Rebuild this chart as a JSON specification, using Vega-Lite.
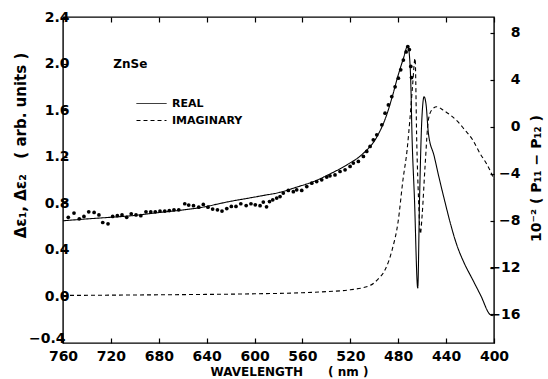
{
  "$schema": "https://vega.github.io/schema/vega-lite/v6.json",
  "width": 431,
  "height": 326,
  "autosize": {"type": "none"},
  "padding": {"left": 63, "top": 17, "right": 54, "bottom": 36},
  "background": "white",
  "config": {
    "view": {"stroke": "black", "strokeWidth": 1.4},
    "font": "DejaVu Sans",
    "axis": {"domain": false, "tickColor": "black", "labelColor": "black", "titleColor": "black", "grid": false,
      "labelFont": "DejaVu Sans", "labelFontWeight": "bold", "titleFont": "DejaVu Sans", "titleFontWeight": "bold", "tickWidth": 1.2}
  },
  "datasets": {
    "dots": [
      {"nm": 755.6, "v": 0.68}, {"nm": 750.8, "v": 0.716}, {"nm": 746.4, "v": 0.667}, {"nm": 742.5, "v": 0.687},
      {"nm": 738.5, "v": 0.727}, {"nm": 734, "v": 0.721}, {"nm": 730, "v": 0.70}, {"nm": 726.8, "v": 0.635},
      {"nm": 722.4, "v": 0.624}, {"nm": 718.5, "v": 0.687}, {"nm": 714.6, "v": 0.693}, {"nm": 710.7, "v": 0.70},
      {"nm": 706.8, "v": 0.68}, {"nm": 703, "v": 0.71}, {"nm": 699, "v": 0.70}, {"nm": 695, "v": 0.693},
      {"nm": 690.7, "v": 0.727}, {"nm": 686.7, "v": 0.727}, {"nm": 682.9, "v": 0.727}, {"nm": 679, "v": 0.733},
      {"nm": 675, "v": 0.733}, {"nm": 671.2, "v": 0.738}, {"nm": 667.3, "v": 0.744}, {"nm": 663.3, "v": 0.744},
      {"nm": 658.3, "v": 0.796}, {"nm": 655, "v": 0.785}, {"nm": 651, "v": 0.779}, {"nm": 646.6, "v": 0.767},
      {"nm": 642.8, "v": 0.79}, {"nm": 638.9, "v": 0.767}, {"nm": 635, "v": 0.75}, {"nm": 631, "v": 0.744},
      {"nm": 627.2, "v": 0.733}, {"nm": 623.2, "v": 0.755}, {"nm": 619.4, "v": 0.773}, {"nm": 615.5, "v": 0.773},
      {"nm": 611.5, "v": 0.796}, {"nm": 607, "v": 0.78}, {"nm": 603, "v": 0.796}, {"nm": 599.4, "v": 0.787},
      {"nm": 595.4, "v": 0.779}, {"nm": 592.7, "v": 0.81}, {"nm": 590, "v": 0.77}, {"nm": 587.5, "v": 0.815},
      {"nm": 584.8, "v": 0.83}, {"nm": 581.5, "v": 0.845}, {"nm": 578.7, "v": 0.858}, {"nm": 576, "v": 0.888},
      {"nm": 571.8, "v": 0.91}, {"nm": 567.6, "v": 0.90}, {"nm": 564.8, "v": 0.916}, {"nm": 560.6, "v": 0.91},
      {"nm": 556.4, "v": 0.944}, {"nm": 552.2, "v": 0.973}, {"nm": 548.1, "v": 0.987}, {"nm": 543.9, "v": 1.002},
      {"nm": 539.7, "v": 1.025}, {"nm": 537, "v": 1.036}, {"nm": 532.8, "v": 1.044}, {"nm": 528.6, "v": 1.073},
      {"nm": 524.4, "v": 1.088}, {"nm": 520.2, "v": 1.116}, {"nm": 517.5, "v": 1.145}, {"nm": 513.3, "v": 1.159},
      {"nm": 509.1, "v": 1.202}, {"nm": 506.3, "v": 1.245}, {"nm": 503.5, "v": 1.288}, {"nm": 500.8, "v": 1.345},
      {"nm": 497.9, "v": 1.388}, {"nm": 493.7, "v": 1.474}, {"nm": 491, "v": 1.574}, {"nm": 488.2, "v": 1.645},
      {"nm": 485.4, "v": 1.717}, {"nm": 482.6, "v": 1.80}, {"nm": 479.9, "v": 1.875}, {"nm": 477.9, "v": 1.946},
      {"nm": 475.7, "v": 2.03}, {"nm": 473.4, "v": 2.10}, {"nm": 472, "v": 2.146}, {"nm": 470.7, "v": 2.12},
      {"nm": 469.5, "v": 1.975}, {"nm": 468.9, "v": 1.88}
    ],
    "lines": [
      {"nm": 760, "r": -8.02, "series": "REAL"}, {"nm": 740, "r": -7.86, "series": "REAL"},
      {"nm": 720, "r": -7.72, "series": "REAL"}, {"nm": 704, "r": -7.6, "series": "REAL"},
      {"nm": 680, "r": -7.32, "series": "REAL"}, {"nm": 660, "r": -7.1, "series": "REAL"},
      {"nm": 648, "r": -6.94, "series": "REAL"}, {"nm": 620, "r": -6.36, "series": "REAL"},
      {"nm": 600, "r": -6.0, "series": "REAL"}, {"nm": 593, "r": -5.87, "series": "REAL"},
      {"nm": 579, "r": -5.6, "series": "REAL"}, {"nm": 565, "r": -5.16, "series": "REAL"},
      {"nm": 550, "r": -4.65, "series": "REAL"}, {"nm": 537, "r": -4.03, "series": "REAL"},
      {"nm": 523, "r": -3.26, "series": "REAL"}, {"nm": 509, "r": -2.26, "series": "REAL"},
      {"nm": 498, "r": -0.9, "series": "REAL"}, {"nm": 490, "r": 0.9, "series": "REAL"},
      {"nm": 485.4, "r": 2.4, "series": "REAL"}, {"nm": 480, "r": 4.4, "series": "REAL"},
      {"nm": 475.7, "r": 5.8, "series": "REAL"}, {"nm": 472, "r": 6.9, "series": "REAL"},
      {"nm": 470.1, "r": 5.25, "series": "REAL"}, {"nm": 469.3, "r": 2.98, "series": "REAL"},
      {"nm": 468.7, "r": 0.14, "series": "REAL"}, {"nm": 466.4, "r": -6.24, "series": "REAL"},
      {"nm": 463.7, "r": -13.75, "series": "REAL"}, {"nm": 462.2, "r": -6.24, "series": "REAL"},
      {"nm": 460.3, "r": 0.57, "series": "REAL"}, {"nm": 458.4, "r": 2.55, "series": "REAL"},
      {"nm": 456.7, "r": 1.85, "series": "REAL"}, {"nm": 454.8, "r": -0.56, "series": "REAL"},
      {"nm": 450, "r": -2.5, "series": "REAL"}, {"nm": 446, "r": -4.3, "series": "REAL"},
      {"nm": 441, "r": -6.4, "series": "REAL"}, {"nm": 436, "r": -8.4, "series": "REAL"},
      {"nm": 431, "r": -10.1, "series": "REAL"}, {"nm": 425, "r": -11.6, "series": "REAL"},
      {"nm": 418, "r": -13.0, "series": "REAL"}, {"nm": 411, "r": -14.4, "series": "REAL"},
      {"nm": 403.3, "r": -16.0, "series": "REAL"}, {"nm": 401, "r": -16.1, "series": "REAL"},
      {"nm": 760, "r": -14.38, "series": "IMAGINARY"}, {"nm": 700, "r": -14.34, "series": "IMAGINARY"},
      {"nm": 650, "r": -14.3, "series": "IMAGINARY"}, {"nm": 600, "r": -14.24, "series": "IMAGINARY"},
      {"nm": 560, "r": -14.15, "series": "IMAGINARY"}, {"nm": 540, "r": -14.05, "series": "IMAGINARY"},
      {"nm": 520, "r": -13.9, "series": "IMAGINARY"}, {"nm": 503, "r": -13.5, "series": "IMAGINARY"},
      {"nm": 497, "r": -13.0, "series": "IMAGINARY"}, {"nm": 491, "r": -12.2, "series": "IMAGINARY"},
      {"nm": 485.1, "r": -10.5, "series": "IMAGINARY"}, {"nm": 480.1, "r": -8.1, "series": "IMAGINARY"},
      {"nm": 476, "r": -4.5, "series": "IMAGINARY"}, {"nm": 472.6, "r": -2.0, "series": "IMAGINARY"},
      {"nm": 470.1, "r": 0.8, "series": "IMAGINARY"}, {"nm": 468, "r": 3.5, "series": "IMAGINARY"},
      {"nm": 465.9, "r": 5.82, "series": "IMAGINARY"}, {"nm": 464.5, "r": -1.41, "series": "IMAGINARY"},
      {"nm": 463, "r": -6.24, "series": "IMAGINARY"}, {"nm": 461.5, "r": -9.13, "series": "IMAGINARY"},
      {"nm": 460, "r": -7.5, "series": "IMAGINARY"}, {"nm": 457.6, "r": -3.4, "series": "IMAGINARY"},
      {"nm": 454.8, "r": 0.57, "series": "IMAGINARY"}, {"nm": 452, "r": 1.42, "series": "IMAGINARY"},
      {"nm": 447.8, "r": 1.7, "series": "IMAGINARY"}, {"nm": 442.3, "r": 1.4, "series": "IMAGINARY"},
      {"nm": 436, "r": 0.95, "series": "IMAGINARY"}, {"nm": 430, "r": 0.4, "series": "IMAGINARY"},
      {"nm": 425, "r": -0.2, "series": "IMAGINARY"}, {"nm": 418, "r": -1.1, "series": "IMAGINARY"},
      {"nm": 411.6, "r": -2.3, "series": "IMAGINARY"}, {"nm": 406, "r": -3.2, "series": "IMAGINARY"},
      {"nm": 403, "r": -3.8, "series": "IMAGINARY"}, {"nm": 400, "r": -4.5, "series": "IMAGINARY"}
    ]
  },
  "layer": [
    {
      "data": {"name": "dots"},
      "mark": {"type": "point", "filled": true, "color": "black", "size": 14, "opacity": 1},
      "encoding": {
        "x": {"field": "nm", "type": "quantitative",
          "scale": {"domain": [400, 760], "reverse": true, "nice": false, "zero": false},
          "axis": {"orient": "bottom", "values": [760, 720, 680, 640, 600, 560, 520, 480, 440, 400],
            "labelFontSize": 14, "labelPadding": 11, "tickSize": -5, "labelFlush": false,
            "title": "WAVELENGTH\u00a0\u00a0\u00a0\u00a0\u00a0\u00a0(\u00a0nm\u00a0)", "titleFontSize": 12, "titleX": 226, "titleY": 28, "titleBaseline": "middle"}},
        "y": {"field": "v", "type": "quantitative",
          "scale": {"domain": [-0.4, 2.4], "nice": false, "zero": false},
          "axis": {"orient": "left", "values": [0, 0.4, 0.8, 1.2, 1.6, 2.0, 2.4], "format": ".1f",
            "labelFontSize": 14, "labelPadding": -2, "tickSize": -4, "labelFlush": false,
            "title": "Δε₁, Δε₂\u00a0\u00a0\u00a0(\u00a0arb.\u00a0units\u00a0)", "titleFontSize": 15, "titleAngle": 270,
            "titleX": -43, "titleY": 128, "titleBaseline": "middle", "titleAlign": "center"}}
      }
    },
    {
      "data": {"name": "lines"},
      "mark": {"type": "line", "color": "black", "strokeWidth": 1.1, "interpolate": "monotone"},
      "encoding": {
        "x": {"field": "nm", "type": "quantitative",
          "axis": {"orient": "top", "values": [760, 720, 680, 640, 600, 560, 520, 480, 440, 400], "labels": false, "tickSize": -5, "title": null}},
        "y": {"field": "r", "type": "quantitative",
          "scale": {"domain": [-18.43, 9.34], "nice": false, "zero": false},
          "axis": {"orient": "right", "values": [-16, -12, -8, -4, 0, 4, 8], "labelAlign": "right",
            "labelFontSize": 14, "labelPadding": 30, "tickSize": -4, "labelFlush": false,
            "title": "10⁻²\u00a0(\u00a0P₁₁\u00a0−\u00a0P₁₂\u00a0)", "titleFontSize": 14, "titleAngle": 270,
            "titleX": 42, "titleY": 161, "titleBaseline": "middle", "titleAlign": "center"}},
        "strokeDash": {"field": "series", "type": "nominal",
          "scale": {"domain": ["REAL", "IMAGINARY"], "range": [[1, 0], [4, 3]]},
          "legend": {"orient": "none", "legendX": 83, "legendY": 81, "title": null,
            "symbolType": "M-5,0H5", "symbolSize": 36, "symbolStrokeColor": "black", "symbolStrokeWidth": 1,
            "labelFont": "DejaVu Sans", "labelFontWeight": "bold", "labelFontSize": 11, "labelColor": "black",
            "labelOffset": 15, "rowPadding": 5}}
      }
    },
    {
      "data": {"values": [{}]},
      "mark": {"type": "text", "text": "ZnSe", "font": "DejaVu Sans", "fontWeight": "bold", "fontSize": 12, "align": "left", "baseline": "middle", "color": "black"},
      "encoding": {
        "x": {"datum": 718, "type": "quantitative", "axis": null},
        "y": {"datum": 2.0, "type": "quantitative", "scale": {"domain": [-0.4, 2.4], "nice": false, "zero": false},
          "axis": {"orient": "left", "values": [-0.4], "format": ".1f", "labelFontSize": 14, "labelPadding": -2,
            "ticks": false, "labelOffset": -5, "labelFlush": false, "title": null, "offset": 0}}
      }
    }
  ],
  "resolve": {"scale": {"y": "independent"}, "axis": {"x": "independent", "y": "independent"}}
}
